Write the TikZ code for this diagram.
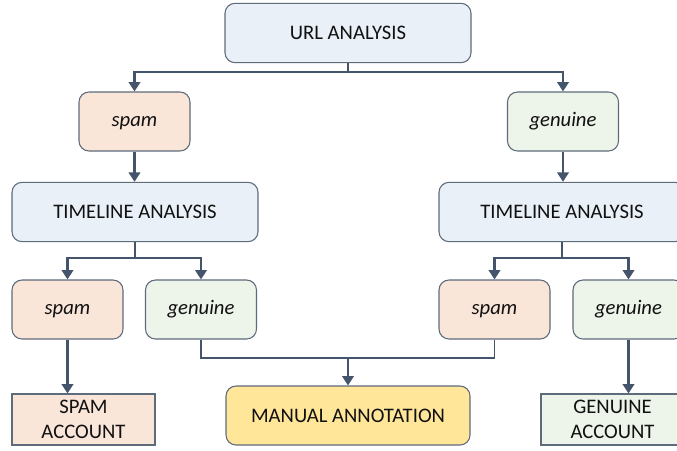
\documentclass[tikz,border=0pt]{standalone}
\usepackage{fontspec}
\setmainfont{Carlito}
\usetikzlibrary{arrows.meta}
\definecolor{frame}{HTML}{5E6B7B}
\definecolor{edge}{HTML}{44546A}
\definecolor{ink}{HTML}{111111}
\definecolor{stepbg}{HTML}{E9F0F8}
\definecolor{spambg}{HTML}{FAE5D9}
\definecolor{genbg}{HTML}{EDF4E9}
\definecolor{manbg}{HTML}{FFE699}
\tikzset{
  box/.style={draw=frame, line width=0.8pt, rounded corners=7.5pt, align=center,
    inner sep=0pt, text=ink, font=\fontsize{15.5}{18.5}\selectfont},
  stage/.style={box, fill=stepbg, minimum width=184.5pt, minimum height=44.5pt},
  label/.style={box, minimum width=83.25pt, minimum height=44.25pt,
    text height=10.5pt, text depth=3.5pt, font=\fontsize{15.5}{18.5}\selectfont\itshape},
  spamlab/.style={label, fill=spambg},
  genlab/.style={label, fill=genbg},
  verdict/.style={box, rounded corners=0pt, minimum width=107.25pt, minimum height=38.25pt},
  manual/.style={box, fill=manbg, minimum width=183pt, minimum height=44.25pt},
  link/.style={draw=edge, line width=0.8pt},
  flow/.style={draw=edge, line width=1.9pt, -{Triangle[length=7pt,width=8.5pt]}},
  flows/.style={draw=edge, line width=1.9pt, {Triangle[length=7pt,width=8.5pt]}-{Triangle[length=7pt,width=8.5pt]}}
}

\begin{document}
\begin{tikzpicture}[x=0.75pt, y=-0.75pt]
  \useasboundingbox (0,0) rectangle (677,450);
  \clip (0,0) rectangle (677,450);
  \fill[white] (0,0) rectangle (677,450);

  \coordinate (split1) at (348,72);
  \coordinate (split2) at (135,258);
  \coordinate (split3) at (562,258);
  \coordinate (merge) at (348,358);

  % boxes
  \node[stage] (url) at (348,33) {URL ANALYSIS};
  \node[spamlab] (spam1) at (134.5,121.5) {spam};
  \node[genlab] (gen1) at (563,121.5) {genuine};
  \node[stage] (tl1) at (135,212) {TIMELINE ANALYSIS};
  \node[stage] (tl2) at (562,212) {TIMELINE ANALYSIS};
  \node[spamlab] (spam2) at (67.5,309.5) {spam};
  \node[genlab] (gen2) at (201,309.5) {genuine};
  \node[spamlab] (spam3) at (494.5,309.5) {spam};
  \node[genlab] (gen3) at (628.5,309.5) {genuine};
  \node[verdict, fill=spambg] (spamacc) at (83.5,419.5) {SPAM\\ACCOUNT};
  \node[manual] (man) at (348,415.5) {MANUAL ANNOTATION};
  \node[verdict, fill=genbg] (genacc) at (612.5,419.5) {GENUINE\\ACCOUNT};

  % connectors
  \draw[link] (url.south) -- (split1);
  \draw[flows] (spam1.north) |- (split1) -| (gen1.north);
  \draw[flow] (spam1.south) -- (spam1.south |- tl1.north);
  \draw[flow] (gen1.south) -- (gen1.south |- tl2.north);

  \draw[link] (tl1.south) -- (split2);
  \draw[flows] (spam2.north) |- (split2) -| (gen2.north);
  \draw[link] (tl2.south) -- (split3);
  \draw[flows] (spam3.north) |- (split3) -| (gen3.north);

  \draw[flow] (spam2.south) -- (spam2.south |- spamacc.north);
  \draw[flow] (gen3.south) -- (gen3.south |- genacc.north);

  \draw[link] (gen2.south) |- (merge) -| (spam3.south);
  \draw[flow] (merge) -- (man.north);
\end{tikzpicture}
\end{document}
